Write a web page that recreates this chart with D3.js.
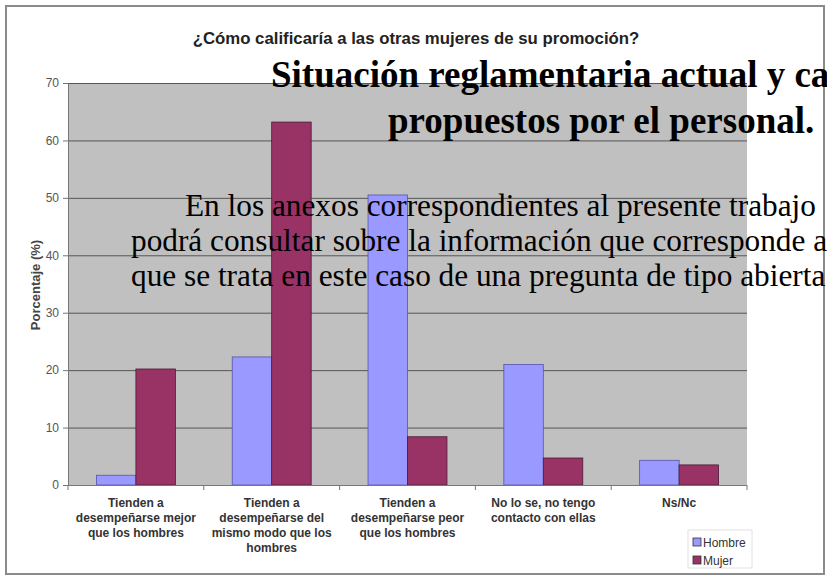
<!DOCTYPE html>
<html>
<head>
<meta charset="utf-8">
<script src="https://cdn.jsdelivr.net/npm/d3@7"></script>
<style>
  body { margin: 0; background: #fff; }
  svg { display: block; }
</style>
</head>
<body>
<svg width="827" height="577"></svg>
<script>
  const categories = [
    ['Tienden a', 'desempeñarse mejor', 'que los hombres'],
    ['Tienden a', 'desempeñarse del', 'mismo modo que los', 'hombres'],
    ['Tienden a', 'desempeñarse peor', 'que los hombres'],
    ['No lo se, no tengo', 'contacto con ellas'],
    ['Ns/Nc']
  ];
  const series = ['Hombre', 'Mujer'];
  const hombre = [1.7, 22.3, 50.5, 21.0, 4.3];
  const mujer = [20.2, 63.2, 8.4, 4.7, 3.5];
  const yTicks = [0, 10, 20, 30, 40, 50, 60, 70];
  const colors = ['#9999ff', '#993366'];

  const headLines = ['Situación reglamentaria actual y ca', 'propuestos por el personal.'];
  const paraLines = [
    'En los anexos correspondientes al presente trabajo',
    'podrá consultar sobre la información que corresponde a',
    'que se trata en este caso de una pregunta de tipo abierta'
  ];

  const svg = d3.select('svg');
  const sans = '"Liberation Sans", Arial, sans-serif';
  const serif = '"Liberation Serif", "Times New Roman", serif';

  // outer frame
  svg.append('rect')
    .attr('x', 6).attr('y', 6).attr('width', 818).attr('height', 568)
    .attr('fill', '#fff').attr('stroke', '#8a8a8a').attr('stroke-width', 2);

  const pL = 68, pR = 747, pT = 83, pB = 485;

  const x = d3.scaleBand().domain(d3.range(categories.length)).range([pL, pR]).padding(0);
  const xs = d3.scaleBand().domain(series).range([0, x.bandwidth()]).paddingInner(0).paddingOuter(0.72);
  const y = d3.scaleLinear().domain([0, 70]).range([pB, pT]);

  svg.append('rect')
    .attr('x', pL).attr('y', pT).attr('width', pR - pL).attr('height', pB - pT)
    .attr('fill', '#c0c0c0');

  // gridlines
  svg.append('g').selectAll('line')
    .data(yTicks.filter(d => d > 0))
    .join('line')
      .attr('x1', pL).attr('x2', pR)
      .attr('y1', d => y(d) + 0.5).attr('y2', d => y(d) + 0.5)
      .attr('stroke', '#555').attr('stroke-width', 1);

  // bars
  const groups = svg.append('g').selectAll('g')
    .data(categories.map((c, i) => i))
    .join('g')
      .attr('transform', i => `translate(${x(i)},0)`);

  groups.selectAll('rect')
    .data(i => [{ s: 'Hombre', v: hombre[i] }, { s: 'Mujer', v: mujer[i] }])
    .join('rect')
      .attr('x', d => xs(d.s))
      .attr('y', d => y(d.v))
      .attr('width', xs.bandwidth())
      .attr('height', d => y(0) - y(d.v))
      .attr('fill', d => colors[series.indexOf(d.s)])
      .attr('stroke', d => d.s === 'Hombre' ? '#5555aa' : '#4a1a33')
      .attr('stroke-width', 0.8);

  // y axis
  const yAxis = svg.append('g')
    .attr('transform', `translate(${pL},0)`)
    .call(d3.axisLeft(y).tickValues(yTicks).tickSize(5).tickPadding(4));
  yAxis.select('.domain').attr('stroke', '#777');
  yAxis.selectAll('.tick line').attr('stroke', '#777');
  yAxis.selectAll('text').attr('font-family', sans).attr('font-size', 12).attr('fill', '#555');

  // x axis
  const xAxisG = svg.append('g');
  xAxisG.append('line')
    .attr('x1', pL).attr('x2', pR).attr('y1', pB + 0.5).attr('y2', pB + 0.5)
    .attr('stroke', '#777');
  xAxisG.selectAll('line.tk')
    .data(d3.range(categories.length + 1))
    .join('line')
      .attr('class', 'tk')
      .attr('x1', i => i < categories.length ? x(i) : pR)
      .attr('x2', i => i < categories.length ? x(i) : pR)
      .attr('y1', pB).attr('y2', pB + 5)
      .attr('stroke', '#777');

  svg.append('g').selectAll('text')
    .data(categories.map((c, i) => i))
    .join('text')
      .attr('x', i => x(i) + x.bandwidth() / 2)
      .attr('y', 507)
      .attr('text-anchor', 'middle')
      .attr('font-family', sans).attr('font-size', 12).attr('font-weight', 'bold')
      .attr('fill', '#333')
    .selectAll('tspan')
    .data(i => categories[i])
    .join('tspan')
      .attr('x', function () { return d3.select(this.parentNode).attr('x'); })
      .attr('dy', (d, j) => j === 0 ? 0 : 15)
      .text(d => d);

  // axis title
  svg.append('text')
    .attr('transform', `translate(40,${(pT + pB) / 2 + 1}) rotate(-90)`)
    .attr('text-anchor', 'middle')
    .attr('font-family', sans).attr('font-size', 13).attr('font-weight', 'bold')
    .attr('fill', '#444')
    .text('Porcentaje (%)');

  // chart title
  svg.append('text')
    .attr('x', 416).attr('y', 44)
    .attr('text-anchor', 'middle')
    .attr('font-family', sans).attr('font-size', 16.8).attr('font-weight', 'bold')
    .attr('fill', '#222')
    .text('¿Cómo calificaría a las otras mujeres de su promoción?');

  // legend
  const legend = svg.append('g').attr('transform', 'translate(688,530)');
  legend.append('rect')
    .attr('width', 64).attr('height', 38)
    .attr('fill', '#fff').attr('stroke', '#e2e2e2');
  const items = legend.selectAll('g.item')
    .data(series)
    .join('g')
      .attr('class', 'item')
      .attr('transform', (d, i) => `translate(5,${12 + i * 18})`);
  items.append('rect')
    .attr('x', 0).attr('y', -4).attr('width', 8).attr('height', 8)
    .attr('fill', (d, i) => colors[i]).attr('stroke', '#333').attr('stroke-width', 0.8);
  items.append('text')
    .attr('x', 10).attr('y', 4.5)
    .attr('font-family', sans).attr('font-size', 12).attr('fill', '#333')
    .text(d => d);

  // document text lying over the chart (runs past the page edge, as in the scan)
  svg.append('g').selectAll('text')
    .data(headLines)
    .join('text')
      .attr('x', (d, i) => i === 0 ? 271 : 388)
      .attr('y', (d, i) => 87 + i * 46)
      .attr('font-family', serif).attr('font-size', 37).attr('font-weight', 'bold')
      .attr('fill', '#000')
      .text(d => d);

  svg.append('g').selectAll('text')
    .data(paraLines)
    .join('text')
      .attr('x', (d, i) => i === 0 ? 185 : 131)
      .attr('y', (d, i) => 216 + i * 35)
      .attr('font-family', serif).attr('font-size', 31.3)
      .attr('fill', '#000')
      .text(d => d);
</script>
</body>
</html>
